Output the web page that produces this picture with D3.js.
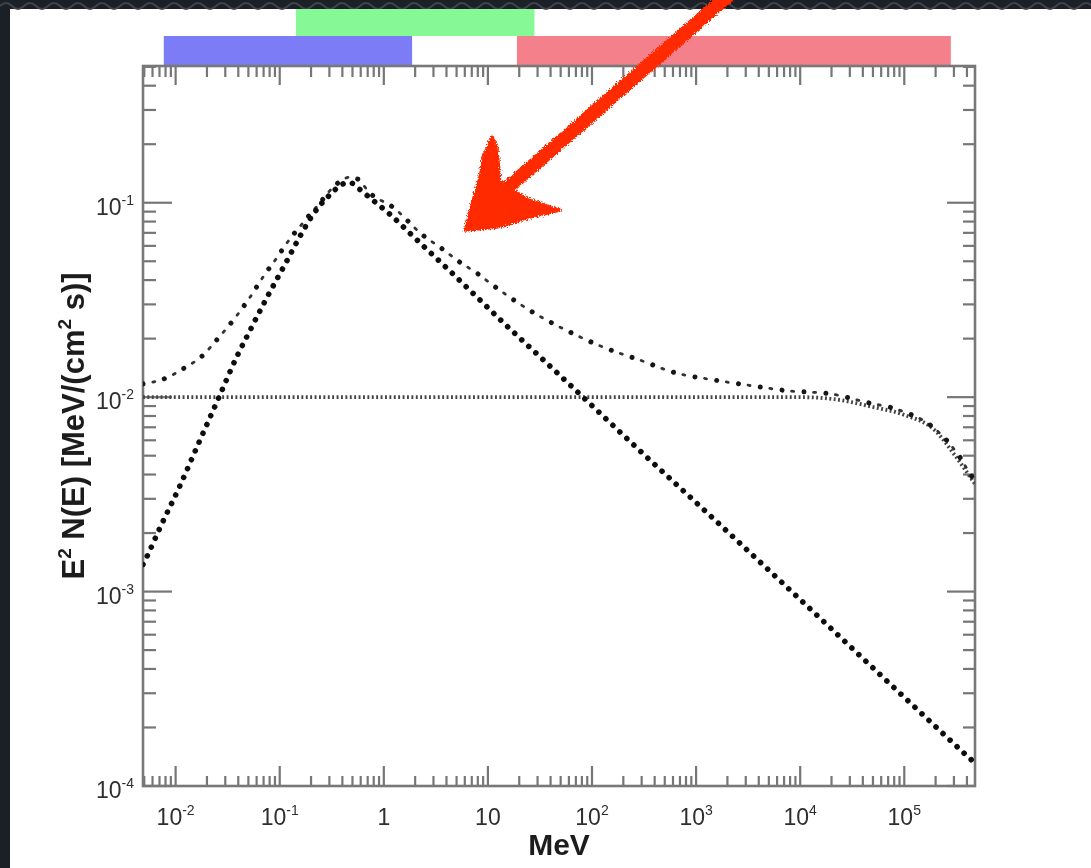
<!DOCTYPE html>
<html><head><meta charset="utf-8">
<script src="https://cdn.jsdelivr.net/npm/d3@7"></script>
<style>html,body{margin:0;padding:0;background:#1b1f26;overflow:hidden}svg{display:block}</style>
</head><body>
<svg id="c" width="1091" height="868"></svg>
<script>
// ---------------- data ----------------
const xDomain = [0.00486, 4.78e5];          // MeV
const yDomain = [1e-4, 0.505];              // MeV/(cm^2 s)
const xTickValues = [1e-2, 1e-1, 1, 10, 1e2, 1e3, 1e4, 1e5];
const xTickBase = ["10", "10", "1", "10", "10", "10", "10", "10"];
const xTickExp = ["-2", "-1", "", "", "2", "3", "4", "5"];
const yTickValues = [1e-4, 1e-3, 1e-2, 1e-1];
const yTickBase = ["10", "10", "10", "10"];
const yTickExp = ["-4", "-3", "-2", "-1"];

// peaked component (bold dots)
const energyA = [0.00486, 0.00526, 0.00708, 0.0110, 0.0171, 0.0261, 0.0388, 0.0484, 0.0755, 0.118, 0.156, 0.209, 0.304, 0.406, 0.47, 0.59, 0.72, 0.86, 1.15, 1.79, 2.6, 4.05, 7.2, 15, 32.6, 82, 300, 1000, 1e4, 1e5, 4e5, 4.78e5];
const fluxA = [0.00138, 0.00150, 0.00213, 0.00350, 0.00600, 0.0100, 0.0162, 0.0205, 0.0326, 0.0506, 0.067, 0.087, 0.110, 0.125, 0.127, 0.117, 0.107, 0.099, 0.087, 0.0695, 0.0575, 0.046, 0.0342, 0.0234, 0.0159, 0.0100, 0.0052, 0.00287, 0.00091, 0.000286, 0.000143, 0.000131];

// total (dash-dot)
const energyB = [0.00486, 0.00827, 0.0118, 0.018, 0.025, 0.0356, 0.0519, 0.0691, 0.0936, 0.117, 0.168, 0.244, 0.32, 0.40, 0.46, 0.55, 0.736, 1.22, 2.38, 3.47, 5.4, 7.86, 11.2, 25.4, 61.5, 138, 290, 600, 1570, 3300, 7400, 1.94e4, 4.36e4, 9.1e4, 1.89e5, 2.55e5, 3.43e5, 4.28e5, 4.78e5];
const fluxB = [0.0117, 0.0126, 0.0140, 0.0163, 0.0198, 0.0248, 0.0327, 0.0415, 0.0520, 0.0620, 0.0790, 0.100, 0.119, 0.131, 0.135, 0.133, 0.112, 0.095, 0.068, 0.059, 0.0494, 0.0434, 0.0376, 0.0279, 0.0216, 0.0178, 0.0155, 0.01345, 0.0122, 0.01148, 0.0108, 0.0104, 0.0094, 0.00855, 0.0070, 0.0060, 0.0049, 0.00404, 0.0037];

// flat component with cutoff (fine dots)
const energyC = [0.00486, 1e4, 2e4, 5e4, 1e5, 2e5, 3e5, 4.78e5];
const fluxC = [0.0100, 0.0100, 0.0098, 0.0089, 0.0081, 0.0067, 0.0051, 0.00357];

// energy coverage bands on top
const bandLow = [0.0077, 0.143, 19];
const bandHigh = [1.87, 28, 2.8e5];
const bandColors = ["#7b7cf6", "#86f895", "#f3808b"];
const bandRow = [1, 0, 1];

// red arrow annotation (data coordinates)
const arrowShaftE = [2118, 15.26];
const arrowShaftV = [1.185, 0.1188];
const arrowHeadE = [10.95, 12.23, 13.07, 17.42, 25.38, 49.27, 25.38, 12.23, 6.03, 7.19, 8.40, 8.97];
const arrowHeadV = [0.2175, 0.1931, 0.1275, 0.1160, 0.1030, 0.0915, 0.0842, 0.0748, 0.0722, 0.1030, 0.1353, 0.1715];

// ---------------- drawing ----------------
const W = 1091, H = 868;
const L = 143, R = 975, T = 66, B = 786;
const FONT = "'Liberation Sans', Arial, Helvetica, sans-serif";
const svg = d3.select("#c");
const x = d3.scaleLog().domain(xDomain).range([L, R]);
const y = d3.scaleLog().domain(yDomain).range([B, T]);

const defs = svg.append("defs");
defs.append("clipPath").attr("id", "plotclip").append("rect")
  .attr("x", L).attr("y", T).attr("width", R - L).attr("height", B - T);
const f = defs.append("filter").attr("id", "rough").attr("x", "-10%").attr("y", "-10%").attr("width", "120%").attr("height", "120%");
f.append("feTurbulence").attr("type", "fractalNoise").attr("baseFrequency", 0.7).attr("numOctaves", 2).attr("result", "n");
f.append("feDisplacementMap").attr("in", "SourceGraphic").attr("in2", "n").attr("scale", 6).attr("xChannelSelector", "R").attr("yChannelSelector", "G");
const soft = defs.append("filter").attr("id", "soft");
soft.append("feGaussianBlur").attr("stdDeviation", 0.45);

// page background
svg.append("rect").attr("width", W).attr("height", H).attr("fill", "#1b1f26");
svg.append("rect").attr("x", 10).attr("y", 9).attr("width", W - 10).attr("height", H - 9).attr("fill", "#ffffff");
// scalloped top frame edge
let sc = "M0,6";
for (let px = 0; px < W; px += 24) sc += ` q6,-6 12,0 q6,6 12,0`;
svg.append("path").attr("d", sc).attr("fill", "none").attr("stroke", "#3d434c").attr("stroke-width", 2);

// energy bands
const rowY = [9, 36], rowH = [27, 30];
bandLow.forEach((lo, i) => {
  svg.append("rect")
    .attr("x", x(lo)).attr("y", rowY[bandRow[i]])
    .attr("width", x(bandHigh[i]) - x(lo)).attr("height", rowH[bandRow[i]])
    .attr("fill", bandColors[i]);
});

// ticks
const ticks = [];
for (let k = -3; k <= 5; k++) for (let m = 1; m <= 9; m++) {
  const v = m * Math.pow(10, k);
  if (v >= xDomain[0] && v <= xDomain[1]) ticks.push({ v, major: m === 1 });
}
const yticks = [];
for (let k = -4; k <= 0; k++) for (let m = 1; m <= 9; m++) {
  const v = m * Math.pow(10, k);
  if (v >= yDomain[0] && v <= yDomain[1]) yticks.push({ v, major: m === 1 });
}
const tg = svg.append("g").attr("stroke", "#767676").attr("stroke-width", 2.2);
ticks.forEach(t => {
  const px = x(t.v);
  tg.append("line").attr("x1", px).attr("x2", px).attr("y1", B).attr("y2", B - (t.major ? 20 : 10));
  tg.append("line").attr("x1", px).attr("x2", px).attr("y1", T).attr("y2", T + (t.major ? 19 : 11));
});
yticks.forEach(t => {
  const py = y(t.v);
  tg.append("line").attr("y1", py).attr("y2", py).attr("x1", L).attr("x2", L + (t.major ? 29 : 13));
  tg.append("line").attr("y1", py).attr("y2", py).attr("x1", R).attr("x2", R - (t.major ? 28 : 12));
});
// frame
svg.append("rect").attr("x", L).attr("y", T).attr("width", R - L).attr("height", B - T)
  .attr("fill", "none").attr("stroke", "#787878").attr("stroke-width", 2.6);

// tick labels
const lg = svg.append("g").attr("filter", "url(#soft)");
xTickValues.forEach((v, i) => {
  const t = lg.append("text").attr("x", x(v)).attr("y", 825).attr("text-anchor", "middle")
    .attr("font-family", FONT).attr("font-size", 23).attr("fill", "#2e2e2e");
  t.append("tspan").text(xTickBase[i]);
  if (xTickExp[i]) t.append("tspan").attr("dy", -10).attr("font-size", 14).text(xTickExp[i]);
});
yTickValues.forEach((v, i) => {
  const t = lg.append("text").attr("x", 134).attr("y", y(v) + 12).attr("text-anchor", "end")
    .attr("font-family", FONT).attr("font-size", 23).attr("fill", "#2e2e2e");
  t.append("tspan").text(yTickBase[i]);
  t.append("tspan").attr("dy", -10).attr("font-size", 14).text(yTickExp[i]);
});

// axis titles
lg.append("text").attr("x", (L + R) / 2).attr("y", 855).attr("text-anchor", "middle")
  .attr("font-family", FONT).attr("font-size", 30).attr("font-weight", "bold").attr("fill", "#1e1e1e").text("MeV");
const yt = lg.append("text").attr("transform", `translate(84,${(T + B) / 2}) rotate(-90)`)
  .attr("text-anchor", "middle").attr("font-family", FONT).attr("font-size", 31)
  .attr("font-weight", "bold").attr("fill", "#1e1e1e");
yt.append("tspan").text("E");
yt.append("tspan").attr("dy", -13).attr("font-size", 19).text("2");
yt.append("tspan").attr("dy", 13).text(" N(E) [MeV/(cm");
yt.append("tspan").attr("dy", -13).attr("font-size", 19).text("2");
yt.append("tspan").attr("dy", 13).text(" s)]");

// curves
const line = d3.line().x(d => x(d[0])).y(d => y(d[1])).curve(d3.curveMonotoneX);
const dataA = energyA.map((e, i) => [e, fluxA[i]]);
const dataB = energyB.map((e, i) => [e, fluxB[i]]);
const dataC = energyC.map((e, i) => [e, fluxC[i]]);
const cg = svg.append("g").attr("clip-path", "url(#plotclip)").attr("fill", "none");
const cs = cg.append("g").attr("filter", "url(#soft)");
cs.append("path").attr("d", line(dataC)).attr("stroke", "#444").attr("stroke-width", 3.8)
  .attr("stroke-dasharray", "1.9 2.5");
cs.append("path").attr("d", line(dataB)).attr("stroke", "#151515").attr("stroke-width", 5)
  .attr("stroke-linecap", "round").attr("stroke-dasharray", "0.01 22");
cs.append("path").attr("d", line(dataB)).attr("stroke", "#333").attr("stroke-width", 2.8)
  .attr("stroke-linecap", "round").attr("stroke-dasharray", "2 20").attr("stroke-dashoffset", -10);
cs.append("path").attr("d", line(dataA)).attr("stroke", "#0d0d0d").attr("stroke-width", 5.6)
  .attr("stroke-linecap", "round").attr("stroke-dasharray", "0.01 9.6");

// red arrow
const ag = svg.append("g").attr("filter", "url(#rough)");
ag.append("line")
  .attr("x1", x(arrowShaftE[0])).attr("y1", y(arrowShaftV[0]))
  .attr("x2", x(arrowShaftE[1])).attr("y2", y(arrowShaftV[1]))
  .attr("stroke", "#ff2a00").attr("stroke-width", 14).attr("stroke-linecap", "round");
ag.append("polygon")
  .attr("points", arrowHeadE.map((e, i) => `${x(e)},${y(arrowHeadV[i])}`).join(" "))
  .attr("fill", "#ff2a00").attr("stroke", "#ff2a00").attr("stroke-width", 3).attr("stroke-linejoin", "round");
</script>
</body></html>
